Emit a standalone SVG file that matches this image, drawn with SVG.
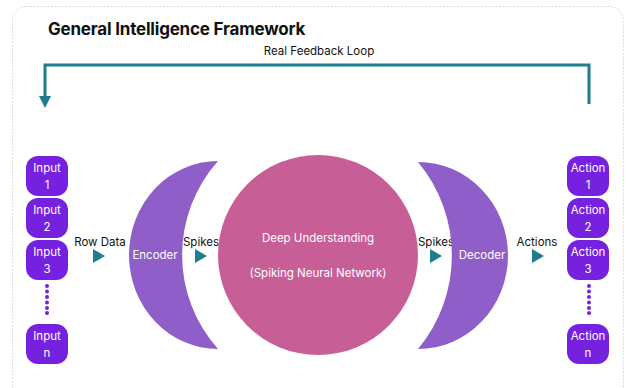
<svg xmlns="http://www.w3.org/2000/svg" width="626" height="388" viewBox="0 0 626 388">
<style>
text{font-family:Inter,"Noto Sans","Liberation Sans",sans-serif;}
.box{fill:#7621df;}
.bt{fill:#fff;font-size:11.5px;text-anchor:middle;}
.lbl{fill:#111;font-size:11.5px;text-anchor:middle;}
.wt{fill:#fff;font-size:11.5px;text-anchor:middle;}
.tri{fill:#1f7e8c;}
.dot{fill:#7621df;}
.shape{fill:#8f5ec8;}
</style>
<rect x="12.5" y="6.5" width="611" height="400" rx="14" fill="#fff" stroke="#dcdcdc" stroke-dasharray="2 1.5"/>
<text x="48" y="35" font-size="17" font-weight="bold" fill="#111" letter-spacing="-0.2">General Intelligence Framework</text>
<text x="319" y="55" class="lbl">Real Feedback Loop</text>
<g id="connectors">
<polyline points="589,104 589,65 45,65 45,98" fill="none" stroke="#1f7e8c" stroke-width="3"/>
<polygon points="39,96 51,96 45,108" fill="#1f7e8c"/>
<polygon class="tri" points="93,249 105,256 93,263"/>
<polygon class="tri" points="195,249 207,256 195,263"/>
<polygon class="tri" points="430,249 442,256 430,263"/>
<polygon class="tri" points="532,249 544,256 532,263"/>
<text x="100" y="246" class="lbl">Row Data</text>
<text x="201" y="246" class="lbl">Spikes</text>
<text x="436" y="246" class="lbl">Spikes</text>
<text x="537" y="246" class="lbl">Actions</text>
</g>
<g id="input1"><rect class="box" x="26" y="156" width="42" height="40" rx="12"/><text class="bt" x="47" y="172">Input</text><text class="bt" x="47" y="189">1</text></g>
<g id="input2"><rect class="box" x="26" y="198" width="42" height="40" rx="12"/><text class="bt" x="47" y="214">Input</text><text class="bt" x="47" y="231">2</text></g>
<g id="input3"><rect class="box" x="26" y="240" width="42" height="40" rx="12"/><text class="bt" x="47" y="256">Input</text><text class="bt" x="47" y="273">3</text></g>
<g id="input-dots"><circle class="dot" cx="47" cy="286" r="2"/><circle class="dot" cx="47" cy="291.5" r="2"/><circle class="dot" cx="47" cy="297" r="2"/><circle class="dot" cx="47" cy="302.5" r="2"/><circle class="dot" cx="47" cy="308" r="2"/><circle class="dot" cx="47" cy="313" r="2"/></g>
<g id="inputn"><rect class="box" x="26" y="324" width="42" height="40" rx="12"/><text class="bt" x="47" y="340">Input</text><text class="bt" x="47" y="357">n</text></g>
<g id="encoder"><path class="shape" d="M218,161 A89,94 0 0 0 218,349 A141,141 0 0 1 218,161 Z"/><text class="wt" x="155" y="259">Encoder</text></g>
<g id="snn"><circle cx="318" cy="255" r="100" fill="#c85e96"/><text class="wt" x="318" y="242">Deep Understanding</text><text class="wt" x="318" y="277">(Spiking Neural Network)</text></g>
<g id="decoder"><path class="shape" d="M418,162 A90,93.5 0 0 1 418,349 A146,146 0 0 0 418,162 Z"/><text class="wt" x="482" y="259">Decoder</text></g>
<g id="action1"><rect class="box" x="567" y="156" width="42" height="40" rx="12"/><text class="bt" x="588" y="172">Action</text><text class="bt" x="588" y="189">1</text></g>
<g id="action2"><rect class="box" x="567" y="198" width="42" height="40" rx="12"/><text class="bt" x="588" y="214">Action</text><text class="bt" x="588" y="231">2</text></g>
<g id="action3"><rect class="box" x="567" y="240" width="42" height="40" rx="12"/><text class="bt" x="588" y="256">Action</text><text class="bt" x="588" y="273">3</text></g>
<g id="action-dots"><circle class="dot" cx="589" cy="286" r="2"/><circle class="dot" cx="589" cy="291.5" r="2"/><circle class="dot" cx="589" cy="297" r="2"/><circle class="dot" cx="589" cy="302.5" r="2"/><circle class="dot" cx="589" cy="308" r="2"/><circle class="dot" cx="589" cy="313" r="2"/></g>
<g id="actionn"><rect class="box" x="567" y="324" width="42" height="40" rx="12"/><text class="bt" x="588" y="340">Action</text><text class="bt" x="588" y="357">n</text></g>
</svg>
